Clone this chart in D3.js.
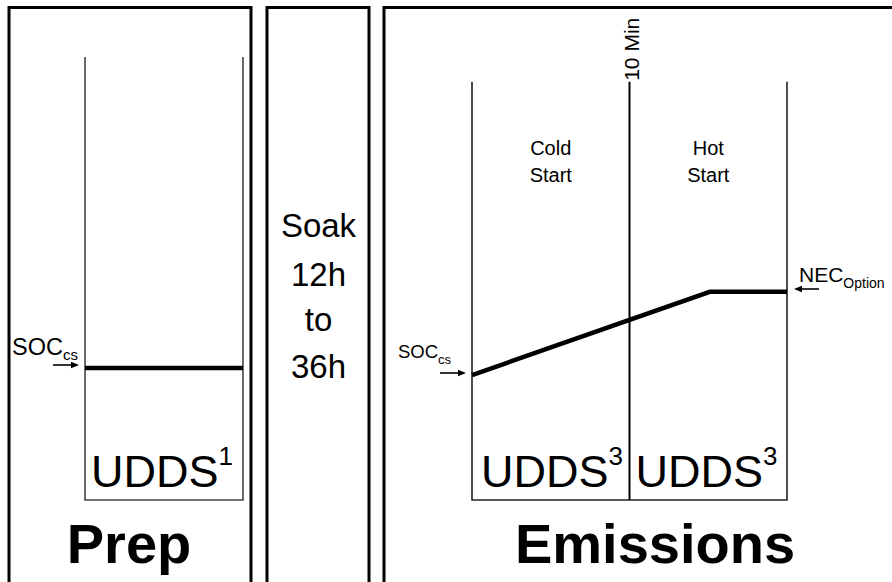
<!DOCTYPE html>
<html>
<head>
<meta charset="utf-8">
<script src="https://cdn.jsdelivr.net/npm/d3@7"></script>
<style>
  html, body { margin: 0; padding: 0; background: #fff; }
  svg { display: block; font-family: "Liberation Sans", Arial, Helvetica, sans-serif; }
</style>
</head>
<body>
<svg id="chart" width="892" height="582"></svg>
<script>
// ---- data ----
const prepTime = [0, 1];            // fraction of the prep UDDS cycle
const prepSOC = [29.8, 29.8];       // SOC (% of scale) during prep
const emisTime = [0, 15.1, 20];     // minutes into emissions test
const emisSOC = [28.2, 47, 47];     // SOC (% of scale) during emissions test
const phaseBoundary = [10];         // minutes
const phaseLabels = [["Cold", "Start"], ["Hot", "Start"]];
const phaseMid = [5, 15];
const soakLines = ["Soak", "12h", "to", "36h"];
const cycleNames = ["UDDS", "UDDS", "UDDS"];
const cycleNotes = ["1", "3", "3"];
const sectionTitles = ["Prep", "Emissions"];

// ---- layout ----
const svg = d3.select("#chart");
const yBottom = 500;
const y = d3.scaleLinear().domain([0, 100]).range([yBottom, 57]);
const prepX = d3.scaleLinear().domain([0, 1]).range([85, 243]);
const emisX = d3.scaleLinear().domain([0, 20]).range([472, 787]);
const prepTopVal = 100, emisTopVal = 94.4;

// outer frames (open at bottom)
const frames = [[9, 251], [267, 369], [384, 905]];
frames.forEach(([a, b]) => {
  svg.append("path")
    .attr("d", `M${a},600 L${a},7.5 L${b},7.5 L${b},600`)
    .attr("fill", "none").attr("stroke", "#000").attr("stroke-width", 3);
});

// prep inner axes
svg.append("path")
  .attr("d", `M${prepX(0)},${y(prepTopVal)} L${prepX(0)},${yBottom} L${prepX(1)},${yBottom} L${prepX(1)},${y(prepTopVal)}`)
  .attr("fill", "none").attr("stroke", "#444").attr("stroke-width", 1.6);

// emissions inner axes
svg.append("path")
  .attr("d", `M${emisX(0)},${y(emisTopVal)} L${emisX(0)},${yBottom} L${emisX(20)},${yBottom} L${emisX(20)},${y(emisTopVal)}`)
  .attr("fill", "none").attr("stroke", "#222").attr("stroke-width", 1.6);
phaseBoundary.forEach(t => {
  svg.append("line")
    .attr("x1", emisX(t)).attr("x2", emisX(t))
    .attr("y1", y(emisTopVal)).attr("y2", yBottom)
    .attr("stroke", "#000").attr("stroke-width", 2);
  svg.append("text")
    .attr("transform", `translate(${emisX(t) + 9},${y(emisTopVal) - 1}) rotate(-90)`)
    .attr("font-size", 21).attr("fill", "#000")
    .text(t + " Min");
});

// phase labels
phaseLabels.forEach((lines, i) => {
  lines.forEach((s, j) => {
    svg.append("text")
      .attr("x", emisX(phaseMid[i])).attr("y", 155 + j * 27)
      .attr("text-anchor", "middle").attr("font-size", 20)
      .text(s);
  });
});

// data lines
const line = (xs) => d3.line().x(d => xs(d[0])).y(d => y(d[1]));
svg.append("path")
  .attr("d", line(prepX)(prepTime.map((t, i) => [t, prepSOC[i]])))
  .attr("fill", "none").attr("stroke", "#000").attr("stroke-width", 4.5);
svg.append("path")
  .attr("d", line(emisX)(emisTime.map((t, i) => [t, emisSOC[i]])))
  .attr("fill", "none").attr("stroke", "#000").attr("stroke-width", 4.5)
  .attr("stroke-linejoin", "miter");

// arrow helper
function arrow(x1, x2, yy) {
  const dir = Math.sign(x2 - x1);
  svg.append("line").attr("x1", x1).attr("x2", x2 - dir * 4).attr("y1", yy).attr("y2", yy)
    .attr("stroke", "#000").attr("stroke-width", 1.6);
  svg.append("path")
    .attr("d", `M${x2},${yy} L${x2 - dir * 8},${yy - 3.2} L${x2 - dir * 8},${yy + 3.2} Z`)
    .attr("fill", "#000");
}

// label helper with subscript / superscript
function subLabel(x, yy, main, sub, size, subSize, dy) {
  const t = svg.append("text").attr("x", x).attr("y", yy).attr("font-size", size);
  t.append("tspan").text(main);
  t.append("tspan").attr("font-size", subSize).attr("dy", dy).text(sub);
  return t;
}

// SOCcs prep
subLabel(12, 355, "SOC", "cs", 23.5, 15, 5);
arrow(53, 79, 365);
// SOCcs emissions
subLabel(398, 358, "SOC", "cs", 18.5, 13, 6);
arrow(440, 466, 373);
// NEC option
subLabel(799, 282, "NEC", "Option", 21, 14, 6);
arrow(819, 794, 289);

// soak text
soakLines.forEach((s, i) => {
  svg.append("text")
    .attr("x", 318.5).attr("y", [237, 286, 331, 378][i])
    .attr("text-anchor", "middle").attr("font-size", 33)
    .text(s);
});

// UDDS labels
const cycleX = [prepX(0) + 6, emisX(0) + 9, emisX(10) + 6];
cycleNames.forEach((s, i) => {
  const t = svg.append("text").attr("x", cycleX[i]).attr("y", 487)
    .attr("font-size", 45).attr("textLength", null);
  t.append("tspan").text(s);
  t.append("tspan").attr("font-size", 26).attr("dy", -22).text(cycleNotes[i]);
});

// section titles
const titleX = [129, 655];
sectionTitles.forEach((s, i) => {
  svg.append("text")
    .attr("x", titleX[i]).attr("y", 563)
    .attr("text-anchor", "middle").attr("font-size", 56).attr("font-weight", "bold")
    .text(s);
});
</script>
</body>
</html>
